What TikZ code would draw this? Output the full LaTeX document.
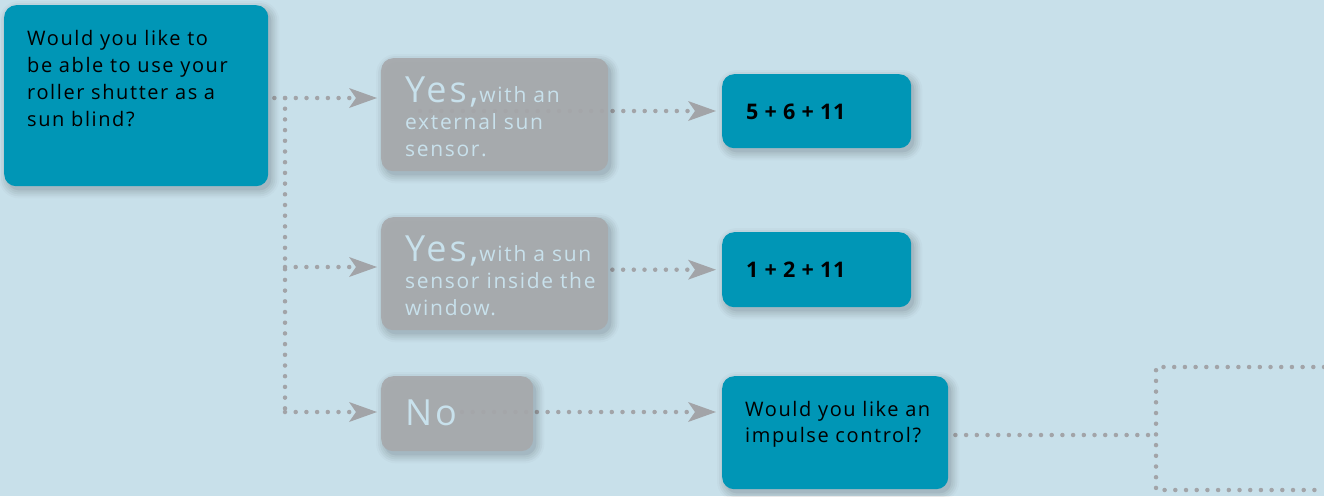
\documentclass[tikz,border=0pt]{standalone}
\usepackage{fontspec}
\setmainfont{Open Sans}
\newfontfamily\mainsp{Open Sans}[LetterSpace=8]
\newfontfamily\boldsp{Open Sans}[LetterSpace=3]
\usetikzlibrary{arrows.meta}
\definecolor{bgblue}{RGB}{200,224,234}
\definecolor{tealfill}{RGB}{0,150,182}
\definecolor{greyfill}{RGB}{167,169,172}
\definecolor{dotgrey}{RGB}{162,164,168}
\definecolor{lighttext}{RGB}{200,225,236}
\pgfdeclarelayer{backmost}
\pgfdeclarelayer{lines}
\pgfdeclarelayer{shadowlayer}
\pgfsetlayers{backmost,lines,shadowlayer,main}
\newcommand\softshadowof[1]{%
  \foreach \e/\o/\r in {0/0.05/12, 2/0.04/14, 4/0.035/16, 6/0.03/18, 8/0.02/20}{%
    \fill[black, opacity=\o, rounded corners=\r pt]
      ([xshift=3pt-\e pt, yshift=-4pt+\e pt]#1.north west) rectangle
      ([xshift=3pt+\e pt, yshift=-4pt-\e pt]#1.south east);
  }%
}
\tikzset{
  boxbase/.style={anchor=north west, inner sep=0pt, rounded corners=12pt},
  tealbox/.style={boxbase, fill=tealfill},
  greybox/.style={boxbase, fill=greyfill, fill opacity=0.92},
  qtext/.style={anchor=base west, inner sep=0pt, text width=#1, align=left,
    font=\mainsp\fontsize{20}{27}\selectfont, text=black},
  gtext/.style={anchor=base west, inner sep=0pt, text width=#1, align=left,
    font=\mainsp\fontsize{21}{27}\selectfont, text=lighttext},
  numtext/.style={anchor=base west, inner sep=0pt, font=\boldsp\bfseries\fontsize{21.5}{24}\selectfont, text=black},
  dotline/.style={draw=dotgrey, line width=4.5pt, line cap=round, dash pattern=on 0pt off 10.7pt},
  dotarrow/.style={dotline, -{Stealth[length=28pt, width=20pt, inset=7pt, line width=0pt, fill=dotgrey, color=dotgrey]}},
}
\begin{document}
\begin{tikzpicture}[x=1pt,y=-1pt]
\path[use as bounding box] (0,0) rectangle (1324,496);
\begin{pgfonlayer}{backmost}
\fill[bgblue] (0,0) rectangle (1324,496);
\end{pgfonlayer}

% junction coordinates
\coordinate (j1) at (285,98);
\coordinate (j2) at (285,267);
\coordinate (j3) at (285,412);
\coordinate (s1) at (420,111);
\coordinate (s3) at (462,412);
\coordinate (j4) at (1156,435);
\coordinate (k1) at (1156,367);
\coordinate (k2) at (1156,490);
\coordinate (e1) at (1324,367);
\coordinate (e2) at (1324,490);

% boxes
\node[tealbox, minimum width=264pt, minimum height=181pt] (q) at (4,5) {};
\node[greybox, minimum width=227pt, minimum height=113pt] (g1) at (381,58) {};
\node[greybox, minimum width=227pt, minimum height=113pt] (g2) at (381,217) {};
\node[greybox, minimum width=152pt, minimum height=75pt] (gn) at (381,376) {};
\node[tealbox, minimum width=189pt, minimum height=74pt] (t1) at (722,74) {};
\node[tealbox, minimum width=189pt, minimum height=75pt] (t2) at (722,232) {};
\node[tealbox, minimum width=226pt, minimum height=113pt] (t4) at (722,376) {};

% soft shadows
\begin{pgfonlayer}{shadowlayer}
\softshadowof{q}\softshadowof{g1}\softshadowof{g2}\softshadowof{gn}
\softshadowof{t1}\softshadowof{t2}\softshadowof{t4}
\end{pgfonlayer}

% connectors (beneath the boxes)
\begin{pgfonlayer}{lines}
\draw[dotarrow, shorten <=6pt, shorten >=4pt] (q.east |- j1) -- (g1.west |- j1);
\draw[dotline] (j1) -- (j3);
\draw[dotarrow, shorten >=4pt] (j2) -- (g2.west |- j2);
\draw[dotarrow, shorten >=4pt] (j3) -- (gn.west |- j3);
\draw[dotarrow, shorten >=6pt] (s1) -- (t1.west |- s1);
\draw[dotarrow, shorten <=4pt, shorten >=6pt] (g2.east |- t2.west) -- (t2.west);
\draw[dotarrow, shorten >=6pt] (s3) -- (t4.west |- s3);
\draw[dotline, shorten <=7pt] (t4.east |- j4) -- (j4);
\draw[dotline] (e1) -- (k1) -- (k2) -- (e2);
\end{pgfonlayer}

% texts
\node[qtext=240pt] (qt) at (27,45) {Would you like to\\be able to use your\\roller shutter as a\\sun blind?};
\node[gtext=200pt] (g1t) at (405,102) {{\fontsize{36}{27}\selectfont Yes,}\kern1pt with an\\external sun\\sensor.};
\node[gtext=200pt] (g2t) at (405,261) {{\fontsize{36}{27}\selectfont Yes,}\kern1pt with a sun\\sensor inside the\\window.};
\node[gtext=120pt] (gnt) at (405,425) {{\fontsize{36}{27}\selectfont No}};
\node[numtext] (t1t) at (746,119) {5 + 6 + 11};
\node[numtext] (t2t) at (746,277) {1 + 2 + 11};
\node[qtext=200pt, font=\mainsp\fontsize{20}{26}\selectfont] (t4t) at (745,416) {Would you like an\\impulse control?};
\end{tikzpicture}
\end{document}
